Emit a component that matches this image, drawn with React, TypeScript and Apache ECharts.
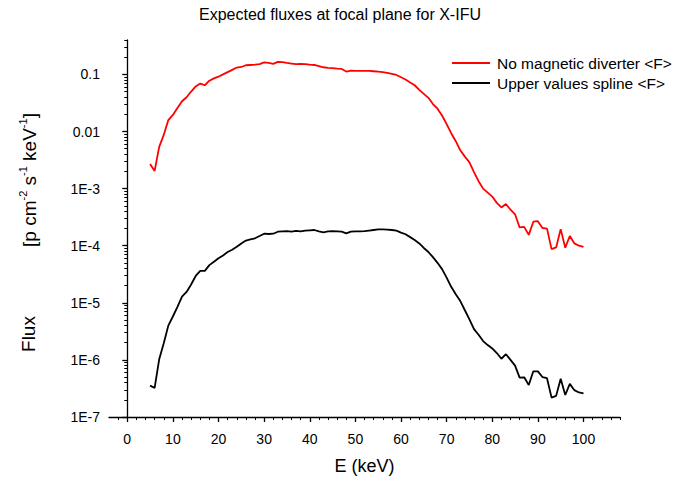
import React, { useEffect, useRef } from "react";
import * as echarts from "echarts";

const energy = [5,6,7,8,9,10,11,12,13,14,15,16,17,18,19,20,21,22,23,24,25,26,27,28,29,30,31,32,33,34,35,36,37,38,39,40,41,42,43,44,45,46,47,48,49,50,51,52,53,54,55,56,57,58,59,60,61,62,63,64,65,66,67,68,69,70,71,72,73,74,75,76,77,78,79,80,81,82,83,84,85,86,87,88,89,90,91,92,93,94,95,96,97,98,99,100];

// log10 of flux [p cm^-2 s^-1 keV^-1]
const noDiverterLog10 = [-2.57,-2.69,-2.27,-2.06,-1.80,-1.71,-1.59,-1.47,-1.40,-1.30,-1.21,-1.16,-1.19,-1.11,-1.07,-1.04,-1.00,-0.96,-0.92,-0.88,-0.87,-0.84,-0.835,-0.83,-0.82,-0.79,-0.80,-0.815,-0.78,-0.785,-0.80,-0.81,-0.82,-0.815,-0.82,-0.83,-0.835,-0.855,-0.875,-0.885,-0.89,-0.90,-0.905,-0.95,-0.935,-0.94,-0.94,-0.94,-0.94,-0.945,-0.95,-0.96,-0.975,-0.99,-1.01,-1.05,-1.09,-1.14,-1.19,-1.27,-1.34,-1.41,-1.52,-1.60,-1.72,-1.87,-2.03,-2.17,-2.33,-2.44,-2.54,-2.71,-2.87,-3.00,-3.07,-3.14,-3.25,-3.33,-3.27,-3.37,-3.45,-3.68,-3.67,-3.81,-3.58,-3.57,-3.69,-3.70,-4.06,-4.03,-3.71,-4.035,-3.83,-3.96,-4.00,-4.02];

const upperSplineLog10 = [-6.45,-6.49,-5.99,-5.71,-5.40,-5.24,-5.07,-4.89,-4.81,-4.68,-4.53,-4.44,-4.44,-4.34,-4.28,-4.22,-4.17,-4.11,-4.07,-4.02,-3.96,-3.91,-3.89,-3.87,-3.83,-3.79,-3.795,-3.79,-3.755,-3.75,-3.745,-3.755,-3.74,-3.75,-3.735,-3.73,-3.725,-3.75,-3.765,-3.75,-3.745,-3.75,-3.755,-3.785,-3.755,-3.75,-3.75,-3.745,-3.735,-3.725,-3.715,-3.715,-3.72,-3.725,-3.737,-3.77,-3.80,-3.85,-3.90,-3.96,-4.04,-4.11,-4.20,-4.30,-4.41,-4.56,-4.72,-4.85,-4.97,-5.13,-5.29,-5.46,-5.56,-5.67,-5.74,-5.80,-5.88,-5.98,-5.90,-6.00,-6.10,-6.31,-6.305,-6.44,-6.20,-6.20,-6.30,-6.32,-6.66,-6.63,-6.33,-6.615,-6.42,-6.53,-6.57,-6.585];

const xMajorTicks = [0,10,20,30,40,50,60,70,80,90,100];
const xMinorTicks = [-2,2,4,6,8,12,14,16,18,22,24,26,28,32,34,36,38,42,44,46,48,52,54,56,58,62,64,66,68,72,74,76,78,82,84,86,88,92,94,96,98,102,104,106,108];
const yMajorExps = [-7,-6,-5,-4,-3,-2,-1];
const yMajorLabels = ["1E-7","1E-6","1E-5","1E-4","1E-3","0.01","0.1"];

const X_MIN = -4;
const X_MAX = 108;
const Y_MIN = -7;
const Y_MAX = Math.log10(0.4);

const FONT = "Liberation Sans, Arial, sans-serif";

export default function App() {
  const ref = useRef<HTMLDivElement>(null);
  useEffect(() => {
    if (!ref.current) return;
    const chart = echarts.init(ref.current, null, { renderer: "svg" });
    const yMinor: number[] = [];
    for (const e of yMajorExps) {
      for (let k = 2; k <= 9; k++) {
        const v = e + Math.log10(k);
        if (v <= Y_MAX + 1e-9) yMinor.push(v);
      }
    }
    const labelMap: Record<string, string> = {};
    yMajorExps.forEach((e, i) => (labelMap[String(e)] = yMajorLabels[i]));
    const lineCol = "#000";
    const bottomPx = 65;
    const plotH = 482 - bottomPx;
    const decadePx = 57.1;
    const topPx = plotH - (Y_MAX - Y_MIN) * decadePx;
    const option: any = {
      animation: false,
      backgroundColor: "#fff",
      title: {
        text: "Expected fluxes at focal plane for X-IFU",
        left: "center",
        top: 1,
        textStyle: { fontFamily: FONT, fontSize: 16, fontWeight: "normal", color: "#000" },
      },
      legend: {
        orient: "vertical",
        left: 452,
        top: 55,
        padding: 0,
        itemWidth: 38,
        itemHeight: 2,
        itemGap: 4,
        icon: "rect",
        textStyle: { fontFamily: FONT, fontSize: 15.5, color: "#000", padding: [0, 0, 0, 2], lineHeight: 16 },
        data: ["No magnetic diverter <F>", "Upper values spline <F>"],
      },
      grid: { left: 109, right: 60, top: topPx, bottom: bottomPx },
      xAxis: [
        {
          type: "value",
          min: X_MIN,
          max: X_MAX,
          name: "E (keV)",
          nameLocation: "middle",
          nameGap: 40,
          nameTextStyle: { fontFamily: FONT, fontSize: 18, color: "#000" },
          axisLine: { show: true, lineStyle: { color: lineCol, width: 1.3 } },
          axisTick: { show: true, length: 5, customValues: xMajorTicks, lineStyle: { color: lineCol, width: 1.3 } },
          axisLabel: {
            customValues: xMajorTicks,
            margin: 15,
            fontFamily: FONT,
            fontSize: 14,
            color: "#000",
          },
          splitLine: { show: false },
        },
        {
          type: "value",
          min: X_MIN,
          max: X_MAX,
          axisLine: { show: false },
          axisTick: { show: true, length: 3, customValues: xMinorTicks, lineStyle: { color: lineCol, width: 1 } },
          axisLabel: { show: false },
          splitLine: { show: false },
          position: "bottom",
        },
      ],
      yAxis: [
        {
          type: "value",
          min: Y_MIN,
          max: Y_MAX,
          axisLine: { show: true, lineStyle: { color: lineCol, width: 1.3 } },
          axisTick: { show: true, length: 5, customValues: yMajorExps, lineStyle: { color: lineCol, width: 1.3 } },
          axisLabel: {
            customValues: yMajorExps,
            margin: 9,
            fontFamily: FONT,
            fontSize: 14,
            color: "#000",
            formatter: (v: number) => labelMap[String(Math.round(v))] ?? "",
          },
          splitLine: { show: false },
        },
        {
          type: "value",
          min: Y_MIN,
          max: Y_MAX,
          position: "left",
          axisLine: { show: false },
          axisTick: { show: true, length: 3, customValues: yMinor, lineStyle: { color: lineCol, width: 1 } },
          axisLabel: { show: false },
          splitLine: { show: false },
        },
      ],
      graphic: [
        {
          type: "text",
          x: 28,
          y: 334,
          rotation: Math.PI / 2,
          style: {
            text: "Flux",
            fontFamily: FONT,
            fontSize: 19,
            fill: "#000",
            align: "center",
            verticalAlign: "middle",
          },
        },
        {
          type: "text",
          x: 28,
          y: 180,
          rotation: Math.PI / 2,
          style: {
            text: "{b|[p cm}{s|-2}{b| s}{s|-1}{b| keV}{s|-1}{b|]}",
            fontFamily: FONT,
            fontSize: 19,
            fill: "#000",
            align: "center",
            verticalAlign: "middle",
            rich: {
              b: { fontFamily: FONT, fontSize: 19, fill: "#000", lineHeight: 22, verticalAlign: "bottom" },
              s: { fontFamily: FONT, fontSize: 11, fill: "#000", lineHeight: 22, verticalAlign: "top" },
            },
          },
        },
      ],
      series: [
        {
          name: "No magnetic diverter <F>",
          type: "line",
          xAxisIndex: 0,
          yAxisIndex: 0,
          data: energy.map((e, i) => [e, noDiverterLog10[i]]),
          showSymbol: false,
          symbol: "none",
          lineStyle: { color: "#ff0000", width: 1.8 },
          itemStyle: { color: "#ff0000" },
        },
        {
          name: "Upper values spline <F>",
          type: "line",
          xAxisIndex: 0,
          yAxisIndex: 0,
          data: energy.map((e, i) => [e, upperSplineLog10[i]]),
          showSymbol: false,
          symbol: "none",
          lineStyle: { color: "#000000", width: 1.8 },
          itemStyle: { color: "#000000" },
        },
      ],
    };
    chart.setOption(option);
    return () => chart.dispose();
  }, []);
  return (
    <div
      ref={ref}
      style={{ position: "fixed", left: 0, top: 0, width: 680, height: 482, background: "#fff" }}
    />
  );
}
